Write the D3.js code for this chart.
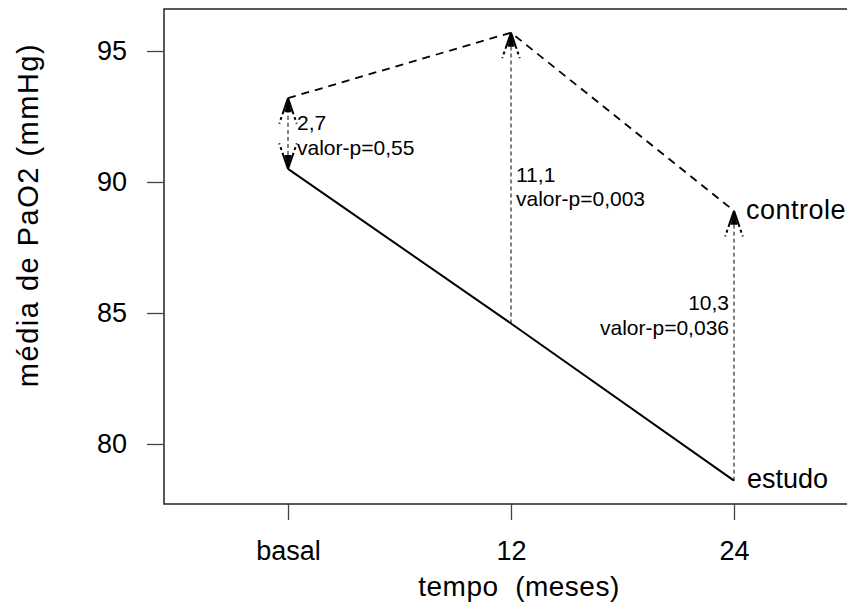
<!DOCTYPE html>
<html>
<head>
<meta charset="utf-8">
<script src="https://cdn.jsdelivr.net/npm/d3@7"></script>
<style>
  body { margin: 0; background: #fff; }
  text { font-family: "Liberation Sans", Arial, sans-serif; fill: #000; }
</style>
</head>
<body>
<svg id="chart" width="847" height="610"></svg>
<script>
// valores
let tempos = ["basal", "12", "24"];
let estudo = [90.5, 84.6, 78.6];
let controle = [93.2, 95.7, 88.9];
let diferencas = ["2,7", "11,1", "10,3"];
let pvalores = ["valor-p=0,55", "valor-p=0,003", "valor-p=0,036"];
let yTicks = [80, 85, 90, 95];

let box = {left: 164, top: 9, right: 880, bottom: 504};

let svg = d3.select("#chart");

let x = d3.scaleLinear().domain([0, 2]).range([288, 734]);
let y = d3.scaleLinear().domain([80, 95]).range([444, 51]);

// caixa do grafico
svg.append("rect")
    .attr("x", box.left)
    .attr("y", box.top)
    .attr("width", box.right - box.left)
    .attr("height", box.bottom - box.top)
    .attr("fill", "none")
    .attr("stroke", "#222")
    .attr("stroke-width", 1.5);

// eixos
let gy = svg.append("g")
    .attr("transform", `translate(${box.left},0)`)
    .call(d3.axisLeft(y).tickValues(yTicks).tickSize(17).tickPadding(20));
let gx = svg.append("g")
    .attr("transform", `translate(0,${box.bottom})`)
    .call(d3.axisBottom(x).tickValues([0, 1, 2]).tickFormat(i => tempos[i]).tickSize(16).tickPadding(21));

[gy, gx].forEach(g => {
    g.select(".domain").remove();
    g.selectAll(".tick line").attr("stroke", "#444").attr("stroke-width", 1.3);
    g.selectAll(".tick text").style("font-size", "27px").attr("fill", "#000")
        .style("font-family", "'Liberation Sans', Arial, sans-serif");
});

// titulos dos eixos
svg.append("text")
    .attr("x", 519)
    .attr("y", 596)
    .attr("text-anchor", "middle")
    .style("font-size", "28px")
    .style("letter-spacing", "0.5px")
    .attr("xml:space", "preserve")
    .text("tempo  (meses)");

svg.append("text")
    .attr("transform", "translate(38,215) rotate(-90)")
    .attr("text-anchor", "middle")
    .style("font-size", "29px")
    .style("letter-spacing", "1.5px")
    .text("média de PaO2 (mmHg)");

// linhas
let line = d3.line().x((d, i) => x(i)).y(d => y(d));

svg.append("path")
    .datum(estudo)
    .attr("d", line)
    .attr("fill", "none")
    .attr("stroke", "#000")
    .attr("stroke-width", 2);

svg.append("path")
    .datum(controle)
    .attr("d", line)
    .attr("fill", "none")
    .attr("stroke", "#000")
    .attr("stroke-width", 1.8)
    .attr("stroke-dasharray", "8,6");

// setas de diferenca
let headLen = 27;
let headAng = 19 * Math.PI / 180;

function arrowHead(px, py, dir) {
    // dir = -1 aponta para cima, 1 aponta para baixo
    [-1, 1].forEach(s => {
        svg.append("line")
            .attr("x1", px)
            .attr("y1", py)
            .attr("x2", px + s * headLen * Math.sin(headAng))
            .attr("y2", py - dir * headLen * Math.cos(headAng))
            .attr("stroke", "#000")
            .attr("stroke-width", 2)
            .attr("stroke-dasharray", "17,3,3,3");
    });
    // ponta escura perto do vertice
    svg.append("path")
        .attr("d", `M${px},${py} L${px - 3.5},${py - dir * 14} L${px + 3.5},${py - dir * 14} Z`)
        .attr("fill", "#000");
}

tempos.forEach((t, i) => {
    let px = x(i);
    svg.append("line")
        .attr("x1", px).attr("x2", px)
        .attr("y1", y(estudo[i]))
        .attr("y2", y(controle[i]))
        .attr("stroke", "#000")
        .attr("stroke-width", 1)
        .attr("stroke-dasharray", "4,3");
    arrowHead(px, y(controle[i]), -1);
    if (i == 0) arrowHead(px, y(estudo[i]), 1);
});

// anotacoes
let anot = [
    {x: 297, y1: 130, y2: 155, anchor: "start"},
    {x: 516, y1: 182, y2: 206, anchor: "start"},
    {x: 729, y1: 310, y2: 335, anchor: "end"}
];

anot.forEach((a, i) => {
    svg.append("text")
        .attr("x", a.x).attr("y", a.y1)
        .attr("text-anchor", a.anchor)
        .style("font-size", "21px")
        .text(diferencas[i]);
    svg.append("text")
        .attr("x", a.x).attr("y", a.y2)
        .attr("text-anchor", a.anchor)
        .style("font-size", "21px")
        .text(pvalores[i]);
});

// rotulos das series
svg.append("text")
    .attr("x", 746).attr("y", 219)
    .style("font-size", "27px")
    .style("letter-spacing", "0.5px")
    .text("controle");
svg.append("text")
    .attr("x", 747).attr("y", 488)
    .style("font-size", "27px")
    .text("estudo");
</script>
</body>
</html>
